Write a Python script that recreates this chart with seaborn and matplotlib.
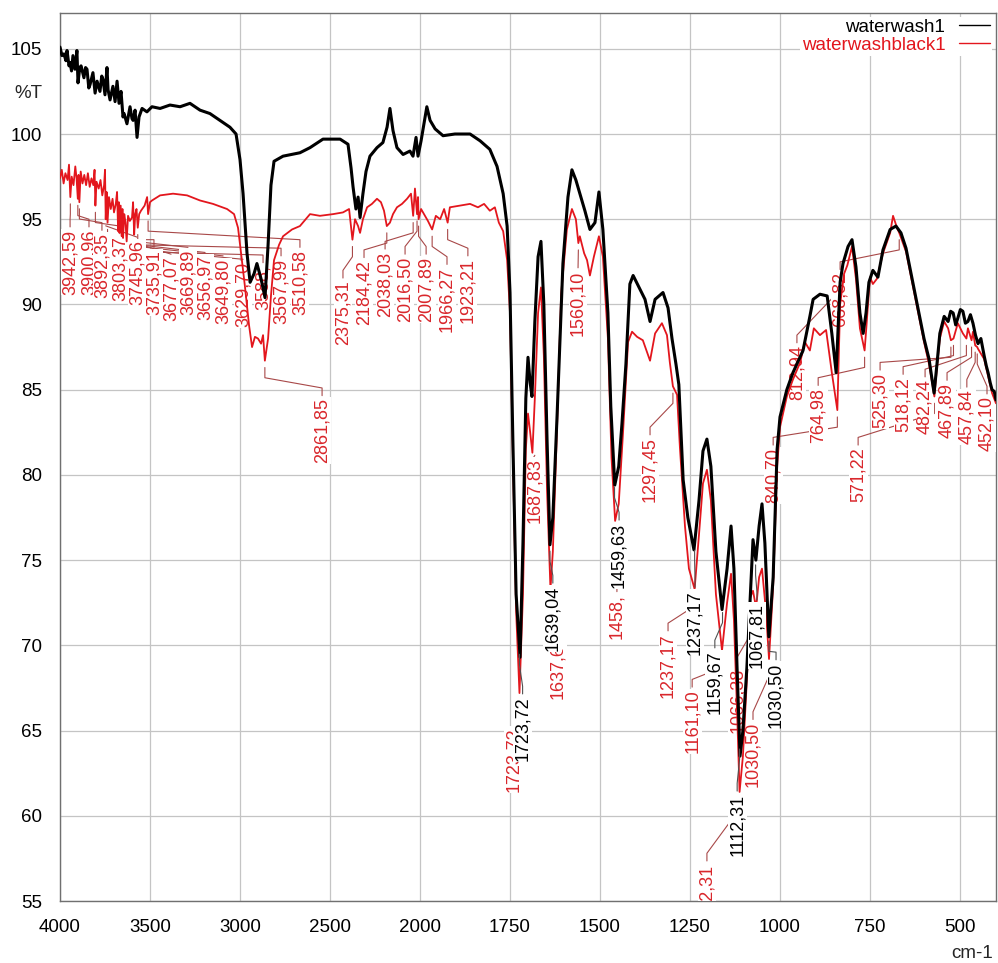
import matplotlib
matplotlib.use("Agg")
import matplotlib.pyplot as plt
import matplotlib.ticker as mticker
import numpy as np
import pandas as pd
import seaborn as sns

# --- spectra (wavenumber cm-1, %T) ---
black_wn = [
    4000, 3989, 3978, 3967, 3961, 3950, 3944, 3936, 3928, 3917, 3906, 3900, 3890, 3883, 3867,
    3858, 3850, 3840, 3833, 3817, 3805, 3794, 3778, 3768, 3761, 3750, 3739, 3733, 3722, 3706,
    3694, 3683, 3672, 3661, 3650, 3644, 3628, 3611, 3600, 3594, 3583, 3572, 3561, 3544, 3517,
    3489, 3444, 3389, 3333, 3278, 3222, 3167, 3111, 3056, 3022,
    3000, 2983, 2961, 2944, 2922, 2906, 2883, 2861, 2844, 2828, 2811, 2761, 2667, 2611,
    2539, 2444, 2400, 2383, 2372, 2356, 2344, 2333, 2317, 2300, 2278, 2239, 2206, 2183,
    2167, 2150, 2128, 2094, 2056, 2039, 2022, 2011, 1997, 1989, 1981, 1972, 1958, 1936,
    1903, 1861, 1833, 1806, 1786, 1769, 1758, 1750, 1742, 1733, 1722, 1714, 1706, 1700,
    1694, 1689, 1681, 1672, 1664, 1656, 1647, 1639, 1631, 1619, 1603, 1589, 1578, 1567,
    1556, 1542, 1528, 1514, 1503, 1492, 1478, 1470, 1459, 1448, 1439, 1428, 1417, 1408,
    1394, 1375, 1361, 1347, 1325, 1311, 1300, 1289, 1281, 1269, 1256, 1239, 1225, 1214,
    1203, 1192, 1178, 1161, 1147, 1136, 1128, 1119, 1111, 1103, 1092, 1083, 1075, 1067,
    1058, 1050, 1042, 1031, 1019, 1008, 1000, 981, 964, 936, 917, 908, 889, 869, 856,
    844, 833, 825, 811, 800, 789, 778, 769, 761, 753, 742, 728, 714, 694, 678, 664, 650,
    633, 617, 600, 586, 572, 564, 556, 544, 533, 526, 519, 512, 506, 499, 492, 485, 478,
    471, 464, 457, 450, 442, 433, 427, 422, 416, 411, 405, 400,
]
black_t = [
    105.1, 104.6, 104.7, 104.3, 104.9, 104.0, 104.2, 103.7, 104.6, 103.8, 104.9, 103.0, 103.9, 104.0, 103.3,
    103.9, 103.8, 102.7, 102.9, 103.6, 102.4, 103.1, 102.5, 103.4, 103.2, 102.3, 103.9, 102.6, 102.0, 102.8,
    101.9, 103.1, 101.8, 102.5, 101.0, 101.2, 100.6, 101.6, 100.9, 100.8, 101.4,
    99.8, 101.0, 101.5, 101.3,
    101.6, 101.5, 101.7, 101.6, 101.8, 101.4, 101.2, 100.8, 100.4, 100.0,
    98.5, 96.5, 93.0, 91.3, 91.8, 92.4, 91.5, 90.4, 93.5, 97.0, 98.4, 98.7, 98.9, 99.2,
    99.7, 99.7, 99.4, 98.0, 96.9, 95.6, 96.3, 95.1, 96.5, 97.8, 98.7, 99.2, 99.5, 100.4,
    101.5, 100.2, 99.2, 98.8, 99.0, 98.7, 99.8, 98.7, 99.6, 100.6, 101.6, 100.8, 100.3, 99.9,
    100.0, 100.0, 99.6, 99.1, 98.1, 96.5, 94.6, 90.7, 82.0, 73.0, 69.3, 76.0, 84.5, 86.9,
    85.4, 84.6, 89.0, 92.8, 93.7, 90.0, 82.0, 75.9, 77.5, 83.6, 92.4, 96.3, 97.9, 97.3,
    96.5, 95.5, 94.4, 94.8, 96.6, 94.4, 89.5, 84.0, 79.4, 80.5, 83.0, 86.5, 91.2, 91.7,
    91.1, 90.3, 89.0, 90.3, 90.7, 89.8, 88.0, 86.5, 85.3, 79.7, 77.5, 75.6, 78.5, 81.4,
    82.1, 80.5, 75.5, 72.1, 74.5, 77.0, 74.5, 68.5, 63.5, 65.0, 68.7, 72.7, 76.2, 75.0,
    77.0, 78.3, 76.0, 70.5, 74.0, 81.5, 83.4, 85.0, 86.0, 87.3, 89.3, 90.3, 90.6, 90.5, 88.3,
    86.0, 91.3, 92.4, 93.4, 93.8, 92.2, 89.5, 88.3, 89.5, 91.3, 92.0, 91.6, 93.2, 94.4, 94.6, 94.2, 93.3,
    91.5, 89.8, 88.0, 86.8, 84.8, 86.5, 88.3, 89.3, 89.0, 89.6, 89.5, 88.8, 89.2, 89.7, 89.6, 88.9, 89.0,
    89.4, 88.9, 88.2, 87.7, 88.0, 87.0, 86.4, 86.0, 85.4, 85.0, 84.9, 84.4,
]

red_wn = [
    4000, 3990, 3980, 3970, 3958, 3950, 3942.6, 3935, 3925, 3915, 3908, 3901, 3897, 3892.4,
    3885, 3875, 3865, 3855, 3845, 3835, 3825, 3815, 3808, 3803.4, 3797, 3785, 3775, 3765,
    3755, 3750, 3746, 3741, 3735.9, 3728, 3718, 3708, 3700, 3690, 3683, 3677, 3673, 3669.9,
    3663, 3657, 3653, 3649.8, 3643, 3636, 3629.7, 3622, 3612, 3600, 3594, 3588, 3582, 3575,
    3568, 3560, 3550, 3530, 3516, 3510.6, 3500, 3489, 3444, 3372, 3294, 3222, 3150, 3072,
    3033, 3011, 2994, 2972, 2950, 2933, 2917, 2900, 2883, 2872, 2861.85, 2844, 2828, 2811,
    2783, 2761, 2711, 2667, 2611, 2556, 2483, 2428, 2394, 2375.3, 2361, 2344, 2333, 2317,
    2294, 2267, 2239, 2217, 2200, 2184.4, 2167, 2150, 2128, 2100, 2072, 2050, 2038, 2028,
    2016.5, 2011, 2007.9, 1997, 1989, 1978, 1966.3, 1956, 1944, 1933, 1923.2, 1917, 1889,
    1861, 1839, 1822, 1806, 1792, 1781, 1769, 1758, 1750, 1742, 1733, 1723.7, 1714, 1706,
    1700, 1694, 1687.8, 1681, 1672, 1664, 1656, 1647, 1637.6, 1631, 1619, 1608, 1592, 1578,
    1567, 1560.1, 1556, 1544, 1536, 1528, 1517, 1503, 1492, 1478, 1468, 1458, 1448, 1436,
    1422, 1411, 1397, 1381, 1361, 1347, 1328, 1314, 1306, 1297.5, 1286, 1278, 1264, 1253,
    1237.2, 1225, 1214, 1203, 1192, 1178, 1161.1, 1147, 1136, 1128, 1119, 1112.3, 1103,
    1092, 1083, 1075, 1066.4, 1058, 1050, 1039, 1030.5, 1019, 1008, 1000, 981, 964, 944,
    931, 917, 906, 889, 872, 856, 840.7, 833, 822, 812.9, 800, 789, 778, 765, 761, 750,
    742, 731, 714, 694, 686, 675, 668.8, 650, 633, 617, 600, 586, 571.2, 564, 556, 544,
    533, 525.3, 518.1, 506, 492, 482.2, 478, 467.9, 464, 457.8, 452.1, 450, 433, 422, 411, 400,
]
red_t = [
    97.4, 97.9, 97.1, 97.7, 97.3, 98.2, 96.3, 97.5, 97.0, 98.1, 97.4, 96.2, 97.6, 96.0,
    97.8, 97.1, 97.6, 97.0, 97.7, 96.9, 97.4, 97.0, 97.9, 95.8, 97.2, 96.8, 97.3, 96.4,
    97.0, 97.9, 95.0, 96.6, 94.8, 96.3, 95.6, 96.2, 95.4, 95.9, 96.6, 94.3, 96.0, 94.2,
    95.8, 94.0, 95.6, 93.9, 95.3, 94.8, 93.7, 95.2, 94.9, 95.1, 96.0, 94.1, 95.3, 95.6,
    94.5, 95.3, 95.5, 95.8, 96.3, 95.3, 96.0, 96.1, 96.4, 96.5, 96.4, 96.1, 95.9, 95.6,
    95.3, 94.5, 93.0, 91.0, 88.8, 87.5, 88.1, 88.0, 87.7, 88.2, 86.7, 88.0, 90.5, 92.6,
    93.5, 94.0, 94.4, 94.6, 95.3, 95.2, 95.3, 95.4, 95.6, 93.8, 95.0, 94.6, 94.2, 95.0,
    95.7, 95.9, 96.2, 96.0, 95.5, 94.6, 94.8, 95.3, 95.7, 95.9, 96.2, 96.5, 95.2, 96.8,
    95.3, 96.3, 95.0, 95.6, 95.3, 94.9, 94.4, 95.2, 95.0, 95.6, 94.8, 95.7, 95.8,
    95.9, 95.7, 95.9, 95.5, 95.7, 94.8, 94.3, 92.6, 89.5, 81.0, 72.0, 67.2, 73.0, 81.5,
    83.6, 82.5, 81.3, 84.5, 89.5, 91.0, 87.0, 79.0, 73.3, 75.5, 83.0, 90.6, 94.4, 95.6,
    95.0, 93.6, 94.0, 93.0, 92.6, 91.7, 92.8, 94.0, 92.8, 88.0, 81.0, 77.3, 78.3, 82.5,
    87.8, 88.4, 88.1, 87.9, 86.7, 88.3, 88.9, 88.2, 86.6, 85.2, 84.7, 81.6, 77.0, 74.5,
    73.3, 76.5, 79.5, 80.3, 78.5, 73.0, 69.7, 72.5, 74.2, 71.5, 66.0, 61.4, 63.5,
    68.0, 72.8, 73.2, 72.2, 74.0, 74.5, 72.0, 69.2, 73.5, 80.5, 82.8, 84.6, 85.6, 86.6,
    87.8, 87.3, 88.6, 88.2, 88.5, 86.0, 83.8, 90.0, 91.8, 92.3, 93.4, 91.5, 88.6, 87.3, 88.4, 91.6,
    91.2, 91.5, 93.0, 94.2, 95.2, 94.5, 94.2, 93.1, 91.3, 89.6, 87.8, 86.5, 84.6, 86.3, 88.0, 89.0,
    88.6, 87.9, 88.0, 88.9, 88.3, 88.0, 88.6, 87.9, 88.4, 87.6, 87.5, 87.4, 86.8, 85.8, 84.8, 84.2,
]

# --- peak labels ---
red_peak_text = [
    "3942,59", "3900,96", "3892,35", "3803,37", "3745,96", "3735,91", "3677,07",
    "3669,89", "3656,97", "3649,80", "3629,70", "3588,", "3567,99", "3510,58",
    "2861,85", "2375,31", "2184,42", "2038,03", "2016,50", "2007,89", "1966,27",
    "1923,21", "1560,10", "1297,45", "1687,83", "1637,6", "1723,72", "1458,",
    "1237,17", "1161,10", "1066,38", "1030,50", "1112,31", "840,70", "812,94",
    "764,98", "668,82", "571,22", "525,30", "518,12", "482,24", "467,89",
    "457,84", "452,10",
]
red_peak_wn = [
    3942.59, 3900.96, 3892.35, 3803.37, 3745.96, 3735.91, 3677.07,
    3669.89, 3656.97, 3649.80, 3629.70, 3588.0, 3567.99, 3510.58,
    2861.85, 2375.31, 2184.42, 2038.03, 2016.50, 2007.89, 1966.27,
    1923.21, 1560.10, 1297.45, 1687.83, 1637.6, 1723.72, 1458.0,
    1237.17, 1161.10, 1066.38, 1030.50, 1112.31, 840.70, 812.94,
    764.98, 668.82, 571.22, 525.30, 518.12, 482.24, 467.89,
    457.84, 452.10,
]
black_peak_text = ["1723,72", "1639,04", "1459,63", "1237,17", "1159,67", "1112,31", "1067,81", "1030,50"]
black_peak_wn = [1723.72, 1639.04, 1459.63, 1237.17, 1159.67, 1112.31, 1067.81, 1030.50]

# label placement (wavenumber of label, %T of label top)
red_label_pos = [
    (3944, 94.4), (3839, 94.4), (3767, 94.2), (3667, 94.0), (3572, 93.8), (3478, 93.2), (3383, 92.8),
    (3289, 93.2), (3194, 92.9), (3094, 92.7), (2983, 92.5), (2872, 92.3), (2772, 92.7), (2667, 93.2),
    (2544, 84.5), (2428, 91.4), (2311, 92.6), (2194, 93.1), (2083, 92.8), (1983, 92.8), (1925, 92.2),
    (1867, 92.7), (1561, 92.0), (1361, 82.2), (1681, 81.0), (1619, 70.1), (1740, 65.2), (1453, 73.0),
    (1311, 70.7), (1244, 67.4), (1119, 68.7), (1075, 65.5), (1203, 57.2), (1019, 81.6), (953, 87.6),
    (894, 85.1), (833, 91.9), (783, 81.6), (722, 86.0), (658, 85.75), (597, 85.6), (536, 85.4),
    (481, 85.0), (425, 84.6),
]
black_label_pos = [(1715, 67.0), (1631, 73.5), (1447, 77.2), (1236, 73.25), (1181, 69.7),
                   (1119, 61.3), (1064, 72.5), (1011, 69.0)]

major_x = [4000, 3500, 3000, 2500, 2000, 1750, 1500, 1250, 1000, 750, 500]
major_y = [55, 60, 65, 70, 75, 80, 85, 90, 95, 100, 105]

RED = "#e3161d"
LABEL_RED = "#d9262b"
LEADER_RED = "#a84848"


def _forward(w):
    w = np.asarray(w, dtype=float)
    return np.where(w > 2000, 2000 + (w - 2000) * 0.5, w)


def _inverse(u):
    u = np.asarray(u, dtype=float)
    return np.where(u > 2000, 2000 + (u - 2000) * 2.0, u)


def _label(ax, text, w_peak, y_curve, w_lab, y_top, color, leader_color, z):
    y0 = y_curve - 0.4
    y1 = y_curve - 1.0
    y2 = y_top + 0.6
    y3 = y_top + 0.15
    if y1 > y2:
        xs, ys = [w_peak, w_peak, w_lab, w_lab], [y0, y1, y2, y3]
    else:
        xs, ys = [w_peak, w_lab], [y0, y3]
    ax.plot(xs, ys, color=leader_color, linewidth=0.8, zorder=z - 0.1)
    ax.text(
        w_lab, y_top, text, rotation=90, ha="center", va="top", fontsize=13,
        color=color, zorder=z, clip_on=True,
        bbox=dict(boxstyle="square,pad=0.05", facecolor="white", edgecolor="none"),
    )


sns.set_theme(style="white")
plt.rcParams["font.family"] = ["Liberation Sans", "DejaVu Sans"]

fig = plt.figure(figsize=(9.98, 9.63), dpi=100)
ax = fig.add_axes([60 / 998, 62 / 963, 936 / 998, 888 / 963])
ax.set_xscale("function", functions=(_forward, _inverse))

black_df = pd.DataFrame({"wn": black_wn, "T": black_t})
red_df = pd.DataFrame({"wn": red_wn, "T": red_t})
sns.lineplot(data=red_df, x="wn", y="T", color=RED, linewidth=1.3, sort=False,
             estimator=None, label="waterwashblack1", ax=ax, zorder=4)
sns.lineplot(data=black_df, x="wn", y="T", color="black", linewidth=2.2, sort=False,
             estimator=None, label="waterwash1", ax=ax, zorder=4.5)

ax.set_xlim(4000, 400)
ax.set_ylim(55, 107.1)
ax.xaxis.set_major_locator(mticker.FixedLocator(major_x))
ax.xaxis.set_major_formatter(mticker.FixedFormatter([str(v) for v in major_x]))
minor_x = [w for w in range(4000, 2000, -100)] + [w for w in range(2000, 399, -50)]
ax.xaxis.set_minor_locator(mticker.FixedLocator(minor_x))
ax.yaxis.set_major_locator(mticker.FixedLocator(major_y))
ax.yaxis.set_minor_locator(mticker.MultipleLocator(1))
ax.tick_params(axis="both", which="both", direction="out", colors="#707070",
               labelcolor="black", labelsize=13.5, width=1)
ax.tick_params(axis="y", which="major", length=11, pad=2)
ax.tick_params(axis="y", which="minor", length=5)
ax.tick_params(axis="x", which="major", length=10, pad=3)
ax.tick_params(axis="x", which="minor", length=7)
ax.set_xlabel("")
ax.set_ylabel("")
ax.grid(True, which="major", color="#c4c4c4", linewidth=0.9)
ax.set_axisbelow(True)
for spine in ax.spines.values():
    spine.set_color("#707070")
    spine.set_linewidth(1)

ax.text(-0.019, 102.4, "%T", transform=ax.get_yaxis_transform(), ha="right",
        va="center", fontsize=13.5)
ax.text(0.997, -0.0586, "cm-1", transform=ax.transAxes, ha="right", va="center",
        fontsize=13.5)

for text, wp, (wl, yt) in zip(red_peak_text, red_peak_wn, red_label_pos):
    yc = float(np.interp(wp, red_wn[::-1], red_t[::-1]))
    _label(ax, text, wp, yc, wl, yt, LABEL_RED, LEADER_RED, 3)
for text, wp, (wl, yt) in zip(black_peak_text, black_peak_wn, black_label_pos):
    yc = float(np.interp(wp, black_wn[::-1], black_t[::-1]))
    _label(ax, text, wp, yc, wl, yt, "black", "#505050", 6)

handles, labels = ax.get_legend_handles_labels()
order = [labels.index("waterwash1"), labels.index("waterwashblack1")]
leg = ax.legend(
    [handles[i] for i in order], [labels[i] for i in order],
    loc="upper right", frameon=True, facecolor="white", edgecolor="none",
    framealpha=1, markerfirst=False, labelcolor="linecolor", fontsize=13.5,
    handlelength=1.7, handletextpad=0.7, borderpad=0.1, labelspacing=0.05,
    borderaxespad=0.2,
)
leg.set_zorder(7)
for line in leg.get_lines():
    line.set_linewidth(1.0)

fig.savefig("out.png", dpi=100)
